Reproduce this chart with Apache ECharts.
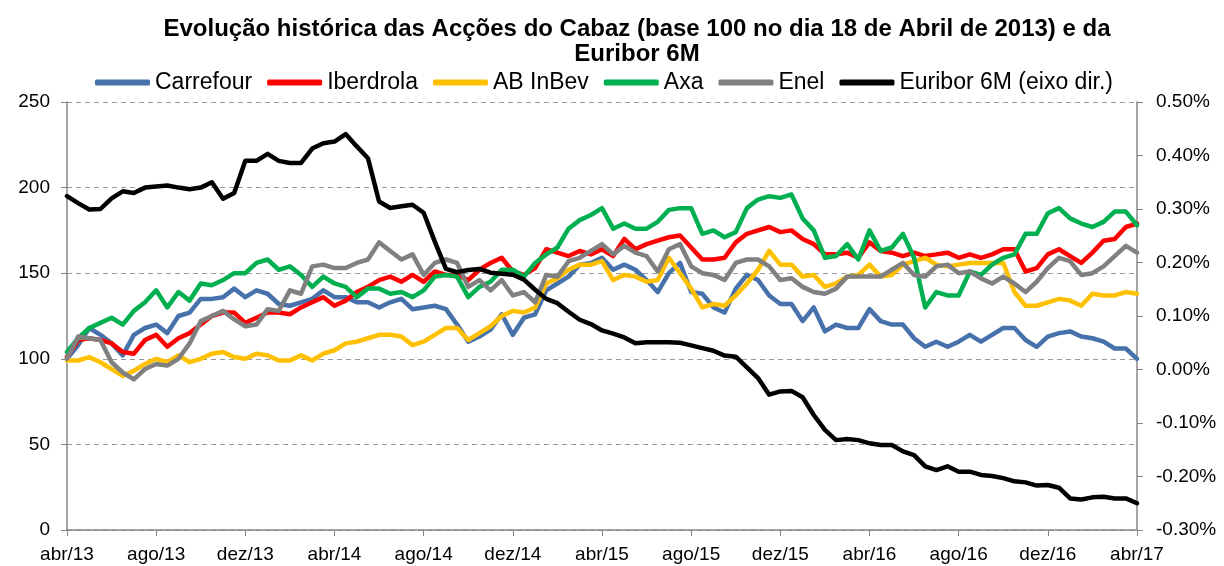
<!DOCTYPE html>
<html>
<head>
<meta charset="utf-8">
<script src="https://cdn.jsdelivr.net/npm/echarts@6/dist/echarts.min.js"></script>
<style>
  html, body { margin: 0; padding: 0; background: #fff; }
  #chart { width: 1224px; height: 566px; }
</style>
</head>
<body>
<div id="chart"></div>
<script>
// x = months since abr/13, one value every half month
const tickLabels = ['abr/13', 'ago/13', 'dez/13', 'abr/14', 'ago/14', 'dez/14', 'abr/15',
  'ago/15', 'dez/15', 'abr/16', 'ago/16', 'dez/16', 'abr/17'];

const carrefour = [
  100, 108, 118, 114, 109, 102, 114, 118, 120, 115, 125, 127, 135, 135, 136, 141, 136,
  140, 138, 132, 131, 133, 135, 140, 136, 136, 133, 133, 130, 133, 135, 129, 130,
  131, 129, 120, 110, 113, 117, 126, 114, 124, 126, 140, 144, 148, 155, 156, 159,
  152, 155, 152, 146, 139, 150, 156, 139, 138, 130, 127, 141, 149, 146, 137, 132,
  132, 122, 130, 116, 120, 118, 118, 129, 122, 120, 120, 112, 107, 110, 107, 110,
  114, 110, 114, 118, 118, 111, 107, 113, 115, 116, 113, 112, 110, 106, 106, 100
];
const iberdrola = [
  101, 111, 112, 111, 109, 104, 103, 111, 114, 107, 112, 115, 120, 125, 127, 127, 121,
  124, 127, 127, 126, 130, 133, 136, 131, 134, 139, 142, 146, 148, 145, 149, 145,
  151, 149, 149, 146, 152, 156, 159, 151, 149, 153, 164, 162, 160, 163, 161, 164,
  160, 170, 164, 167, 169, 171, 172, 165, 158, 158, 159, 168, 173, 175, 177, 174,
  175, 170, 167, 161, 161, 162, 159, 168, 163, 162, 160, 162, 160, 161, 162, 159,
  161, 159, 161, 164, 164, 151, 153, 161, 164, 160, 156, 162, 169, 170, 177, 179
];
const abInbev = [
  99, 99, 101, 98, 94, 90, 93, 97, 100, 98, 102, 98, 100, 103, 104, 101, 100,
  103, 102, 99, 99, 102, 99, 103, 105, 109, 110, 112, 114, 114, 113, 108, 110,
  114, 118, 118, 111, 115, 119, 125, 128, 127, 130, 144, 147, 152, 155, 155, 157,
  146, 149, 148, 145, 146, 159, 150, 141, 130, 132, 131, 137, 144, 152, 163, 155,
  155, 148, 149, 142, 144, 148, 149, 155, 148, 149, 155, 157, 159, 155, 154, 155,
  156, 156, 156, 156, 139, 131, 131, 133, 135, 134, 131, 138, 137, 137, 139, 138
];
const axa = [
  104, 112, 118, 121, 124, 120, 128, 133, 140, 130, 139, 134, 144, 143, 146, 150, 150,
  156, 158, 152, 154, 149, 142, 148, 144, 142, 136, 141, 141, 138, 139, 136, 140,
  148, 149, 148, 136, 142, 145, 152, 152, 148, 156, 161, 165, 176, 181, 184, 188,
  176, 179, 176, 176, 180, 187, 188, 188, 173, 175, 171, 174, 188, 193, 195, 194,
  196, 182, 175, 159, 160, 167, 158, 175, 163, 165, 173, 159, 130, 139, 137, 137,
  151, 149, 155, 159, 161, 173, 173, 185, 188, 182, 179, 177, 180, 186, 186, 178
];
const enel = [
  100, 113, 112, 111, 98, 92, 88, 94, 97, 96, 100, 109, 122, 125, 128, 123, 119,
  120, 129, 128, 140, 138, 154, 155, 153, 153, 156, 158, 168, 163, 158, 161, 149,
  156, 158, 156, 142, 146, 140, 146, 137, 139, 133, 149, 148, 157, 159, 163, 167,
  161, 166, 162, 160, 151, 164, 167, 154, 150, 149, 146, 156, 158, 158, 154, 146,
  147, 142, 139, 138, 141, 148, 148, 148, 148, 152, 156, 149, 148, 154, 155, 150,
  151, 147, 144, 148, 144, 139, 145, 153, 159, 157, 149, 150, 154, 160, 166, 162
];
// Euribor 6M, in %
const euribor = [
  0.324, 0.311, 0.299, 0.300, 0.320, 0.333, 0.330, 0.340, 0.342, 0.344, 0.340, 0.337, 0.340, 0.350, 0.319, 0.330, 0.390,
  0.390, 0.403, 0.390, 0.386, 0.386, 0.413, 0.423, 0.426, 0.440, 0.417, 0.395, 0.314, 0.302, 0.305, 0.308, 0.293,
  0.239, 0.188, 0.182, 0.186, 0.188, 0.181, 0.179, 0.177, 0.168, 0.149, 0.132, 0.124, 0.108, 0.093, 0.085, 0.073,
  0.067, 0.060, 0.049, 0.051, 0.051, 0.051, 0.050, 0.045, 0.040, 0.035, 0.026, 0.024, 0.004, -0.016, -0.047, -0.041,
  -0.040, -0.052, -0.085, -0.113, -0.132, -0.130, -0.132, -0.138, -0.141, -0.141, -0.153, -0.160, -0.181, -0.188, -0.181, -0.191,
  -0.191, -0.197, -0.199, -0.203, -0.209, -0.211, -0.217, -0.216, -0.221, -0.241, -0.243, -0.239, -0.238, -0.241, -0.241, -0.250
];

const font = '"Liberation Sans", Arial, sans-serif';
const axisGrey = '#868686';

const toPoints = arr => arr.map((v, i) => [i / 2, v]);

const makeLine = (name, data, color, yAxisIndex) => ({
  name: name,
  type: 'line',
  yAxisIndex: yAxisIndex,
  data: toPoints(data),
  symbol: 'none',
  itemStyle: { color: color },
  lineStyle: { width: 4.5, color: color, join: 'round', cap: 'round' }
});

const chart = echarts.init(document.getElementById('chart'));

const option = {
  animation: false,
  title: {
    text: 'Evolução histórica das Acções do Cabaz (base 100 no dia 18 de Abril de 2013) e da\nEuribor 6M',
    left: 632,
    top: 12,
    textAlign: 'center',
    textStyle: { fontFamily: font, fontSize: 24, fontWeight: 'bold', lineHeight: 25, color: '#000' }
  },
  legend: {
    top: 66,
    left: 90,
    icon: 'roundRect',
    itemWidth: 55,
    itemHeight: 6,
    itemGap: 15,
    textStyle: { fontFamily: font, fontSize: 23, color: '#000' }
  },
  grid: { left: 67, right: 87, top: 102, bottom: 36 },
  xAxis: {
    type: 'value',
    min: 0,
    max: 48,
    interval: 4,
    axisLine: { lineStyle: { color: axisGrey, width: 1.5 } },
    axisTick: { show: true, length: 6, lineStyle: { color: axisGrey } },
    splitLine: { show: false },
    axisLabel: {
      fontFamily: font, fontSize: 19, color: '#000', margin: 15,
      formatter: v => tickLabels[Math.round(v / 4)]
    }
  },
  yAxis: [
    {
      type: 'value',
      min: 0,
      max: 250,
      interval: 50,
      axisLine: { show: true, lineStyle: { color: axisGrey, width: 1.5 } },
      axisTick: { show: true, length: 6, lineStyle: { color: axisGrey } },
      splitLine: { lineStyle: { color: '#9a9a9a', type: [5, 4] } },
      axisLabel: { fontFamily: font, fontSize: 19, color: '#000', margin: 17 }
    },
    {
      type: 'value',
      position: 'right',
      min: -0.3,
      max: 0.5,
      interval: 0.1,
      axisLine: { show: true, lineStyle: { color: axisGrey, width: 1.5 } },
      axisTick: { show: true, length: 6, lineStyle: { color: axisGrey } },
      splitLine: { show: false },
      axisLabel: {
        fontFamily: font, fontSize: 19, color: '#000', margin: 19,
        formatter: v => v.toFixed(2) + '%'
      }
    }
  ],
  series: [
    makeLine('Carrefour', carrefour, '#4671AA', 0),
    makeLine('Iberdrola', iberdrola, '#FF0000', 0),
    makeLine('AB InBev', abInbev, '#FFC000', 0),
    makeLine('Axa', axa, '#00B050', 0),
    makeLine('Enel', enel, '#808080', 0),
    makeLine('Euribor 6M (eixo dir.)', euribor, '#000000', 1)
  ]
};

chart.setOption(option);
</script>
</body>
</html>
